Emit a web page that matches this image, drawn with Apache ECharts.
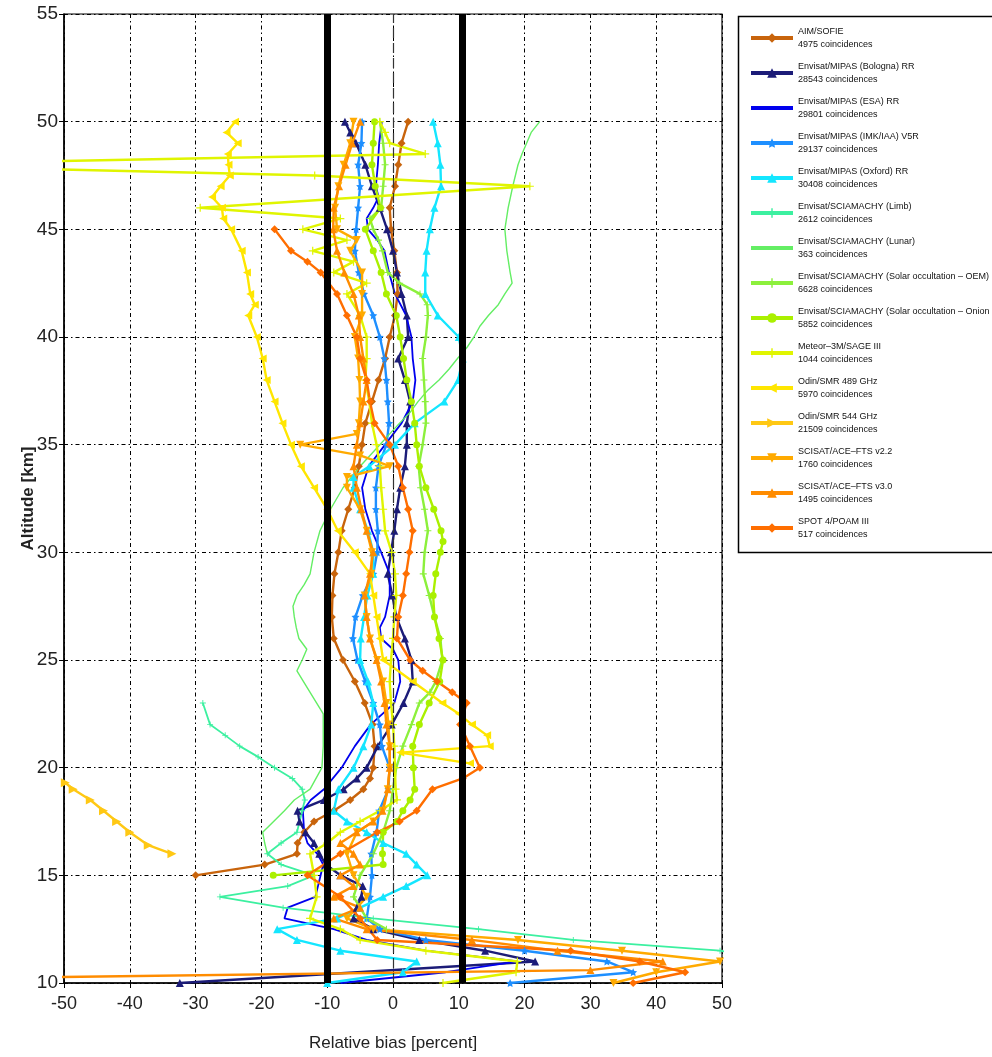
<!DOCTYPE html>
<html><head><meta charset="utf-8">
<script src="https://cdn.jsdelivr.net/npm/echarts@6/dist/echarts.min.js"></script>
<style>html,body{margin:0;padding:0;background:#fff}#c{width:992px;height:1057px}</style>
</head><body><div id="c"></div>
<script>
// ---- data: [altitude km, relative bias %] ----
const seriesNames = ["AIM/SOFIE","Envisat/MIPAS (Bologna) RR","Envisat/MIPAS (ESA) RR","Envisat/MIPAS (IMK/IAA) V5R","Envisat/MIPAS (Oxford) RR","Envisat/SCIAMACHY (Limb)","Envisat/SCIAMACHY (Lunar)","Envisat/SCIAMACHY (Solar occultation \u2013 OEM)","Envisat/SCIAMACHY (Solar occultation \u2013 Onion peeling)","Meteor\u20133M/SAGE III","Odin/SMR 489 GHz","Odin/SMR 544 GHz","SCISAT/ACE\u2013FTS v2.2","SCISAT/ACE\u2013FTS v3.0","SPOT 4/POAM III"];
const coincidences = [4975,28543,29801,29137,30408,2612,363,6628,5852,1044,5970,21509,1760,1495,517];
const xTicks = {min:-50, max:50, step:10};
const yTicks = {min:10, max:55, step:5};
const refLines = [-10, 10.5];
const zeroLine = [0];

const sofie = [[50,2.3],[49,1.3],[48,0.8],[47,0.3],[46,-0.5],[45,-0.3],[44,0.2],[43,0.6],[42,0.7],[41,0.3],[40,-0.5],[39,-1.2],[38,-2.2],[37,-3.2],[36,-4.2],[35,-4.7],[34,-5.2],[33,-5.8],[32,-6.8],[31,-7.8],[30,-8.3],[29,-8.9],[28,-9.2],[27,-9.3],[26,-9],[25,-7.6],[24,-5.8],[23,-4.3],[22,-3.1],[21,-2.8],[20,-3],[19.5,-3.5],[19,-4.5],[18.5,-6.5],[18,-9],[17.5,-12],[17,-13.5],[16.5,-14.5],[16,-14.6],[15.5,-19.5],[15,-30]];
const bologna = [[50,-7.3],[49.5,-6.5],[49,-5.6],[48,-4.2],[47,-3.2],[46,-2],[45,-0.9],[44,0],[43,0.6],[42,1.3],[41,2.1],[40,2.3],[39,0.8],[38,1.8],[37,2.6],[36,2.1],[35,2.1],[34,1.8],[33,1.1],[32,0.6],[31,0.2],[30,-0.3],[29,-0.8],[28,-0.1],[27,0.5],[26,1.8],[25,2.8],[24,3],[23,1.6],[22,-0.2],[21,-2.3],[20,-4],[19.5,-5.5],[19,-7.5],[18.5,-10.5],[18,-14.5],[17.5,-14.2],[17,-13.3],[16.5,-12],[16,-11.2],[15.5,-10.2],[15,-8],[14.5,-4.6],[14,-4.8],[13.5,-5.5],[13,-6],[12.5,-3],[12,4],[11.5,14],[11,21.6],[10,-32.4]];
const esa = [[50,-1.7],[49,-2.1],[48,-2.3],[47,-2.6],[46.5,-2.2],[46,-3],[45.5,-4],[45,-3.8],[44.5,-2.4],[44,-1.3],[43,-0.6],[42,0.3],[41,2],[40,2.8],[39,3],[38,3.4],[37,3],[36,1.3],[35,-1.2],[34,-3.7],[33,-4.7],[32,-4.2],[31,-3.2],[30,-1.8],[29,-0.5],[28,-0.5],[27,-1.2],[26.5,-2],[26,-1.8],[25.5,0],[25,0.8],[24,1.1],[23,0.2],[22,-3.4],[21,-5.8],[20,-7.8],[19,-10.5],[18.5,-12.5],[18,-13.7],[17,-13.5],[16.5,-13],[16,-11.5],[15.5,-10.6],[15,-11],[14,-11.8],[13.5,-16],[13,-16.5],[12.5,-9],[12,-4],[11.5,5],[11,19],[10.5,8],[10,-8]];
const imk = [[50,-4.7],[49,-4.8],[48,-5.3],[47,-5],[46,-5.3],[45,-5.6],[44,-5.8],[43,-5.2],[42,-4.4],[41,-3],[40,-2],[39,-1.3],[38,-1],[37,-0.8],[36,-0.6],[35,-1],[34,-2.2],[33,-2.6],[32,-2.6],[31,-2.3],[30,-2.4],[29,-3],[28,-4.6],[27,-5.7],[26,-6.1],[25,-5.4],[24,-4.2],[23,-3],[22,-2],[21,-1.7],[20,-0.5],[19,-0.7],[18,-2.1],[17,-2.5],[16,-3.3],[15,-3.2],[14,-3.5],[13,-4],[12.5,-2],[12,5],[11.5,20],[11,32.5],[10.5,36.5],[10,17.8]];
const oxford = [[50,6.1],[49,6.8],[48,7.2],[47,7.3],[46,6.3],[45,5.6],[44,5.1],[43,4.9],[42,4.9],[41,6.8],[40,10],[39,10.6],[38,9.9],[37,7.8],[36,3.3],[35,0.3],[34,-3.6],[33.5,-6],[33,-6],[32,-5],[31,-3.8],[30,-3],[29,-3],[28,-3.9],[27,-4.4],[26,-4.9],[25,-5],[24,-3.8],[23,-3],[22,-3.3],[21,-4.5],[20,-6],[19,-8.3],[18,-9],[17.5,-7],[17,-4],[16.5,-1.5],[16,2],[15.5,3.6],[15,5.2],[14.5,2],[14,-1.5],[13.5,-5],[13,-8.5],[12.5,-17.6],[12,-14.6],[11.5,-8],[11,3.6],[10.5,1.5],[10,-10]];
const limb = [[23,-28.9],[22,-27.8],[21.5,-25.5],[21,-23.3],[20.5,-20.5],[20,-18],[19.5,-15.3],[19,-13.8],[18.5,-13.4],[18,-13.8],[17,-14.6],[16.5,-17],[16,-19.1],[15.5,-17],[15,-12],[14.5,-16],[14,-26.3],[13.5,-16.7],[13,-3],[12.5,13],[12,27.4],[11.5,49.7],[11,60]];
const lunar = [[50,22.3],[49.5,21],[49,20.3],[48.5,19.6],[48,19],[47,18.2],[46,17.5],[45,17],[44,17.3],[43,17.8],[42.5,18.1],[42,17],[41.5,16],[41,14.5],[40.5,13.2],[40,12.3],[39.5,11.2],[39,9.8],[38.5,8.5],[38,7],[37.5,5.2],[37,3.8],[36.5,2.6],[36,1],[35.5,-0.5],[35,-2],[34.5,-3.5],[34,-5],[33,-7.6],[32,-9.5],[31,-11.1],[30,-12],[29,-12.6],[28.5,-13.5],[28,-14.6],[27.5,-15.2],[27,-15],[26.5,-14.7],[26,-14.3],[25.5,-13.1],[25,-13.8],[24.5,-14.6],[24,-13.6],[23.5,-12.6],[23,-11.6],[22.5,-10.6],[22,-10.6],[21,-10.6],[20,-10.8],[19,-12.6],[18.5,-15],[18,-16.5],[17,-19.8],[16.5,-19.5],[16,-19.1]];
const oem = [[50,-2],[49,-1.5],[48,-1.2],[47,-1.5],[46,-1.8],[45.5,-3.5],[45,-3],[44.5,-2.2],[44,-1.6],[43,-0.8],[42.5,1],[42,4.1],[41.5,5.2],[41,5.3],[40,5],[39,4.5],[38,4.7],[37,4.9],[36,5],[35,4.5],[34,3.9],[33,4.2],[32,4.8],[31,5.3],[30,4.8],[29,4.6],[28,5.5],[27,6.3],[26,7.2],[25,7.5],[24,6.5],[23.5,5.6],[23,4],[22,2.8],[21,1.5],[20,0.5],[19,0],[18,-0.5],[17,-1.5],[16,-3],[15,-5],[14,-6],[13,-4],[12.5,-1]];
const onion = [[50,-2.8],[49,-3],[48,-3.2],[47,-2.7],[46,-1.9],[45,-4.2],[44,-3],[43,-1.8],[42,-1],[41,0.5],[40,1.1],[39,1.6],[38,2.1],[37,2.8],[36,3.3],[35,3.6],[34,4],[33,5],[32,6.2],[31,7.3],[30.5,7.6],[30,7.2],[29,6.5],[28,6.1],[27,6.3],[26,7],[25,7.6],[24,7.1],[23,5.5],[22,4],[21,3],[20,3.1],[19,3.3],[18.5,2.6],[18,1.5],[17.5,0.6],[17,-1.5],[16,-1.6],[15.5,-1.5],[15,-18.2]];
const sage = [[50,-2],[49.5,-1.2],[49,-0.5],[48.5,4.9],[48,-80],[47.5,-11.9],[47,20.8],[46,-29.3],[45.5,-8],[45,-13.7],[44.5,-7],[44,-12.2],[43.5,-6],[43,-9],[42.5,-4],[42,-7],[41,-5],[40,-4],[39,-4],[38,-4.2],[37,-3.6],[36,-3.2],[35,-2.5],[34,-2],[33,-1.8],[32,-1.5],[31,-1.2],[30,-0.2],[29,0.3],[28,0.5],[27,0.2],[26,0],[25,-0.3],[24,-0.5],[23,-0.3],[22,0],[21,0.2],[20,0.3],[19,0.4],[18.5,0.6],[18,-2],[17.5,-5],[17,-8],[16.5,-10],[16,-12.6],[15,-12],[14,-11.6],[13,-12.6],[12.5,-8],[12,-5],[11.5,5],[11,18.9],[10.5,18.7],[10,7.6]];
const smr489 = [[50,-24],[49.5,-25.3],[49,-23.6],[48.5,-25.1],[48,-25],[47.5,-24.8],[47,-26.2],[46.5,-27.5],[46,-26],[45.5,-25.8],[45,-24.6],[44,-23],[43,-22.2],[42,-21.7],[41.5,-21],[41,-22],[40,-20.7],[39,-19.8],[38,-19.2],[37,-18],[36,-16.8],[35,-15.5],[34,-14],[33,-12],[32,-10],[31,-8.4],[30,-5.8],[29,-3.5],[28,-3],[27,-2.5],[26,-2],[25,-1.5],[24,3],[23,7.5],[22.5,10],[22,12],[21.5,14.3],[21,14.7],[20.7,1.1],[20.2,11.7]];
const smr544 = [[19.8,-58],[19.3,-49.8],[19,-48.6],[18.5,-46],[18,-44],[17.5,-42],[17,-40],[16.4,-37.2],[16,-33.6]];
const ace22 = [[50,-6],[49,-6.5],[48,-7.5],[47,-8.3],[46,-8.8],[45,-8.5],[44.5,-5.5],[44,-6.5],[43,-4.7],[42,-4.7],[41,-4.7],[40,-5.8],[39,-5.3],[38,-5.1],[37,-5],[36,-5.2],[35.5,-5.5],[35,-14.1],[34.5,-5],[34,-0.5],[33.5,-7],[33,-7],[32,-5],[31,-4],[30,-3.2],[29,-3.3],[28,-4.3],[27,-4],[26,-3.5],[25,-2.4],[24,-1.5],[23,-1],[22,-0.7],[21,-0.5],[20,-0.5],[19,-0.8],[18,-1.5],[17.5,-3],[17,-5.5],[16,-7],[15,-6],[14,-4],[13,-7],[12.5,-3],[12,19],[11.5,34.8],[11,49.7],[10.5,40],[10,33.5]];
const ace30 = [[50,-5],[49,-6.2],[48,-7.2],[47,-8.2],[46,-9],[45,-9.1],[44,-8.5],[43,-7.4],[42,-6],[41,-5.2],[40,-5],[39,-4.5],[38,-4],[37,-4.5],[36,-5],[35,-5.5],[34,-6],[33,-5.5],[32,-4.8],[31,-4],[30,-3],[29,-3.5],[28,-4.3],[27,-4],[26,-3.5],[25,-2.5],[24,-1.8],[23,-1.3],[22,-1],[21,-0.5],[20,-0.5],[19,-0.8],[18,-1.6],[17.5,-3],[17,-5.5],[16.5,-8],[16,-6],[15.5,-5],[15,-8],[14.5,-6],[14,-9],[13.5,-5],[13,-9],[12.5,-4],[12,12],[11.5,25],[11,41],[10.6,30],[10.2,-70]];
const poam = [[45,-18],[44,-15.5],[43.5,-13],[43,-11],[42,-8.5],[41,-7],[40,-5.5],[39,-5],[38,-4],[37,-3.5],[36,-2.8],[35,-0.5],[34,0.8],[33,1.5],[32,2.3],[31,3],[30,2.5],[29,2],[28,1.5],[27,0.8],[26,0.6],[25,2.6],[24.5,4.5],[24,6.7],[23.5,9],[23,11.2],[22,10.2],[21,11.7],[20,13.2],[19.5,10.6],[19,6],[18,3.6],[17.5,1],[17,-2.4],[16,-8],[15,-13],[14,-8],[13,-5],[12,-2.4],[11.5,27],[11,37.5],[10.5,44.4],[10,36.5]];

const seriesData = [sofie,bologna,esa,imk,oxford,limb,lunar,oem,onion,sage,smr489,smr544,ace22,ace30,poam];

// ---- styles ----
const STAR = 'path://M0,-10L2.9,-4L9.5,-3.1L4.7,1.5L5.9,8.1L0,5L-5.9,8.1L-4.7,1.5L-9.5,-3.1L-2.9,-4Z';
const PLUS = 'path://M-1.5,-10L1.5,-10L1.5,-1.5L10,-1.5L10,1.5L1.5,1.5L1.5,10L-1.5,10L-1.5,1.5L-10,1.5L-10,-1.5L-1.5,-1.5Z';
const styles = [
  {c:'#c8640c', s:'diamond', r:0, sz:8, w:2.4},
  {c:'#1c1c78', s:'triangle', r:0, sz:8, w:2.4},
  {c:'#0000ee', s:'none', r:0, sz:0, w:1.8},
  {c:'#1e8fff', s:STAR, r:0, sz:8, w:2.4},
  {c:'#14e6ff', s:'triangle', r:0, sz:8, w:2.4},
  {c:'#3cf0a0', s:PLUS, r:0, sz:6, w:1.8},
  {c:'#64ee64', s:'none', r:0, sz:0, w:1.4},
  {c:'#8cf03c', s:PLUS, r:0, sz:7, w:2.4},
  {c:'#aaf000', s:'circle', r:0, sz:7, w:2.4},
  {c:'#e0f500', s:PLUS, r:0, sz:8, w:2.4},
  {c:'#ffe600', s:'triangle', r:90, sz:8, w:2.4},
  {c:'#ffc814', s:'triangle', r:-90, sz:9, w:2.4},
  {c:'#ffaa00', s:'triangle', r:180, sz:8, w:2.4},
  {c:'#ff8c00', s:'triangle', r:0, sz:8, w:2.4},
  {c:'#ff6e00', s:'diamond', r:0, sz:8, w:2.4}
];

const FONT = '"Liberation Sans",Arial,sans-serif';

const series = seriesData.map((d, i) => ({
  name: seriesNames[i],
  type: 'line',
  data: d.map(p => [p[1], p[0]]),
  color: styles[i].c,
  symbol: styles[i].s,
  symbolSize: styles[i].sz,
  symbolRotate: styles[i].r,
  showSymbol: styles[i].s !== 'none',
  lineStyle: {width: styles[i].w, color: styles[i].c},
  itemStyle: {color: styles[i].c},
  clip: true,
  animation: false,
  z: 3
}));

series.push({
  name: 'ref', type: 'line', data: [], animation: false, z: 5,
  markLine: {
    silent: true, symbol: ['none','none'], label: {show: false},
    data: refLines.map(v => ({xAxis: v, lineStyle: {color: '#000', width: 7, type: 'solid'}}))
      .concat(zeroLine.map(v => ({xAxis: v, lineStyle: {color: '#333', width: 1.2, type: [10, 5]}})))
  }
});

const legendData = seriesNames.map((n, i) => styles[i].s === 'none'
  ? {name: n, itemStyle: {opacity: 0}}
  : {name: n});

const chart = echarts.init(document.getElementById('c'), null, {renderer: 'canvas'});
chart.setOption({
  backgroundColor: '#fff',
  animation: false,
  textStyle: {fontFamily: FONT},
  grid: {left: 64, right: 270, top: 14, bottom: 74, show: true, borderColor: '#000', borderWidth: 1.2, backgroundColor: 'transparent'},
  xAxis: {
    type: 'value', min: xTicks.min, max: xTicks.max, interval: xTicks.step,
    name: 'Relative bias [percent]', nameLocation: 'middle', nameGap: 52, nameMoveOverlap: false,
    nameTextStyle: {fontSize: 17, color: '#222', fontFamily: FONT},
    axisLine: {onZero: false, lineStyle: {color: '#000', width: 1.5}},
    axisTick: {show: true, inside: false, length: 5, lineStyle: {color: '#000'}},
    axisLabel: {fontSize: 18, color: '#222', margin: 12, fontFamily: FONT},
    splitLine: {show: true, lineStyle: {color: '#000', width: 1, type: [4, 3, 1.5, 3]}}
  },
  yAxis: {
    type: 'value', min: yTicks.min, max: yTicks.max, interval: yTicks.step,
    name: 'Altitude [km]', nameLocation: 'middle', nameGap: 27, nameRotate: 90, nameMoveOverlap: false,
    nameTextStyle: {fontSize: 17, color: '#222', fontFamily: FONT, fontWeight: 'bold'},
    axisLine: {onZero: false, lineStyle: {color: '#000', width: 1.5}},
    axisTick: {show: true, inside: false, length: 5, lineStyle: {color: '#000'}},
    axisLabel: {fontSize: 19, color: '#222', margin: 6, fontFamily: FONT},
    splitLine: {show: true, lineStyle: {color: '#000', width: 1, type: [4, 3, 1.5, 3]}}
  },
  legend: {
    data: legendData,
    orient: 'vertical', left: 744, top: 20,
    itemWidth: 42, itemHeight: 12, itemGap: 9,
    lineStyle: {width: 4},
    formatter: name => name + '\n' + coincidences[seriesNames.indexOf(name)] + ' coincidences',
    textStyle: {fontSize: 9, lineHeight: 13, color: '#111', fontFamily: FONT},
    selectedMode: false
  },
  graphic: [{type: 'rect', left: 736, top: 14, shape: {width: 300, height: 536}, style: {fill: 'none', stroke: '#000', lineWidth: 1.5}, z: 10}],
  series: series
});
</script></body></html>
